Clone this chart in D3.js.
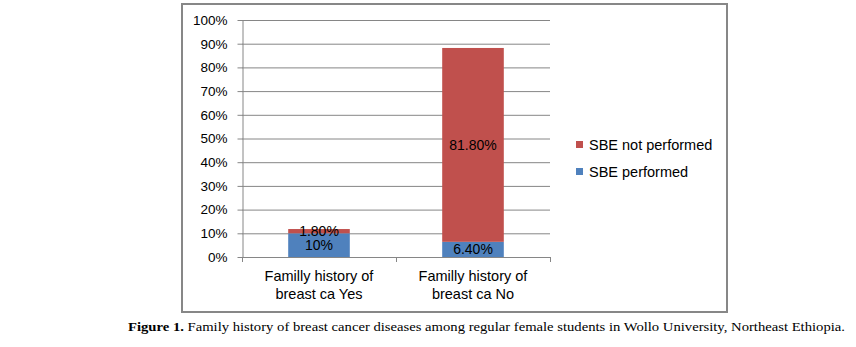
<!DOCTYPE html>
<html>
<head>
<meta charset="utf-8">
<script src="https://cdn.jsdelivr.net/npm/d3@7"></script>
<style>
  body { margin: 0; background: #fff; }
  text { font-family: "Liberation Sans", Arial, sans-serif; }
</style>
</head>
<body>
<div class="canvas"></div>
<script>
// Data
const categories = [["Familly history of", "breast ca Yes"], ["Familly history of", "breast ca No"]];
const performed = [10, 6.4];
const notPerformed = [1.8, 81.8];
const performedLabels = ["10%", "6.40%"];
const notPerformedLabels = ["1.80%", "81.80%"];
const yTicks = [0, 10, 20, 30, 40, 50, 60, 70, 80, 90, 100];
const seriesNames = ["SBE not performed", "SBE performed"];
const colors = { performed: "#4F81BD", notPerformed: "#C0504D" };

const W = 856, H = 347;
const plot = { left: 242, right: 550, top: 20, bottom: 257 };

const svg = d3.select(".canvas")
    .append("svg")
        .attr("width", W)
        .attr("height", H);

svg.append("rect").attr("width", W).attr("height", H).attr("fill", "#fff");

// outer chart border
svg.append("rect")
    .attr("x", 182).attr("y", 4)
    .attr("width", 545).attr("height", 308)
    .attr("fill", "none")
    .attr("stroke", "#878787")
    .attr("stroke-width", 2);

const x = d3.scaleBand()
    .domain(d3.range(categories.length))
    .range([plot.left, plot.right])
    .paddingInner(0.6)
    .paddingOuter(0.3);

const y = d3.scaleLinear()
    .domain([0, 100])
    .range([plot.bottom, plot.top]);

// gridlines
svg.append("g")
    .selectAll("line")
    .data(yTicks.filter(d => d > 0))
    .join("line")
        .attr("x1", plot.left).attr("x2", plot.right)
        .attr("y1", d => y(d) + 0.5).attr("y2", d => y(d) + 0.5)
        .attr("stroke", "#868686");

// y-axis
const yAxis = svg.append("g")
    .attr("transform", `translate(${plot.left + 0.5},0)`)
    .call(d3.axisLeft(y).tickValues(yTicks).tickFormat(d => d + "%").tickSize(5).tickSizeOuter(0));
yAxis.select(".domain").attr("stroke", "#868686");
yAxis.selectAll(".tick line").attr("stroke", "#868686");
yAxis.selectAll(".tick text")
    .attr("x", -15)
    .attr("fill", "#000")
    .style("font-size", "13.5px")
    .style("font-family", "Liberation Sans, Arial, sans-serif");

// x-axis baseline with ticks at band boundaries
const xBound = d3.scaleLinear().domain([0, categories.length]).range([plot.left, plot.right]);
svg.append("line")
    .attr("x1", plot.left).attr("x2", plot.right)
    .attr("y1", plot.bottom + 0.5).attr("y2", plot.bottom + 0.5)
    .attr("stroke", "#868686");
svg.append("g")
    .selectAll("line")
    .data(d3.range(categories.length + 1))
    .join("line")
        .attr("x1", d => xBound(d) + 0.5).attr("x2", d => xBound(d) + 0.5)
        .attr("y1", plot.bottom).attr("y2", plot.bottom + 5)
        .attr("stroke", "#868686");

// stacked bars
const bars = svg.append("g");
bars.selectAll(".perf")
    .data(performed)
    .join("rect")
        .attr("x", (d, i) => x(i))
        .attr("width", x.bandwidth())
        .attr("y", d => y(d))
        .attr("height", d => y(0) - y(d))
        .attr("fill", colors.performed);
bars.selectAll(".notperf")
    .data(notPerformed)
    .join("rect")
        .attr("x", (d, i) => x(i))
        .attr("width", x.bandwidth())
        .attr("y", (d, i) => y(performed[i] + d))
        .attr("height", (d, i) => y(performed[i]) - y(performed[i] + d))
        .attr("fill", colors.notPerformed);

// data labels
svg.append("g")
    .selectAll("text")
    .data(performed)
    .join("text")
        .attr("x", (d, i) => x(i) + x.bandwidth() / 2)
        .attr("y", d => y(d / 2))
        .attr("dy", "0.35em")
        .attr("text-anchor", "middle")
        .style("font-size", "14px")
        .text((d, i) => performedLabels[i]);
svg.append("g")
    .selectAll("text")
    .data(notPerformed)
    .join("text")
        .attr("x", (d, i) => x(i) + x.bandwidth() / 2)
        .attr("y", (d, i) => y(performed[i] + d / 2))
        .attr("dy", "0.35em")
        .attr("text-anchor", "middle")
        .style("font-size", "14px")
        .text((d, i) => notPerformedLabels[i]);

// category labels
svg.append("g")
    .selectAll("text")
    .data(categories)
    .join("text")
        .attr("x", (d, i) => x(i) + x.bandwidth() / 2)
        .attr("y", plot.bottom + 24)
        .attr("text-anchor", "middle")
        .style("font-size", "14.5px")
        .each(function(d) {
            d3.select(this).selectAll("tspan")
                .data(d)
                .join("tspan")
                    .attr("x", d3.select(this).attr("x"))
                    .attr("dy", (t, j) => j === 0 ? 0 : 18)
                    .text(t => t);
        });

// legend
const legend = svg.append("g").attr("transform", "translate(576,141)");
const legendColors = [colors.notPerformed, colors.performed];
legend.selectAll("rect")
    .data(seriesNames)
    .join("rect")
        .attr("x", 0)
        .attr("y", (d, i) => i * 27)
        .attr("width", 7).attr("height", 7)
        .attr("fill", (d, i) => legendColors[i]);
legend.selectAll("text")
    .data(seriesNames)
    .join("text")
        .attr("x", 13)
        .attr("y", (d, i) => i * 27 + 3.5)
        .attr("dy", "0.35em")
        .style("font-size", "14.5px")
        .text(d => d);

// caption
const cap = svg.append("text")
    .attr("x", 128)
    .attr("y", 331)
    .style("font-family", "Liberation Serif, serif")
    .style("font-size", "12px")
    .attr("textLength", 717)
    .attr("lengthAdjust", "spacingAndGlyphs");
cap.append("tspan").style("font-weight", "bold").text("Figure 1.");
cap.append("tspan").text(" Family history of breast cancer diseases among regular female students in Wollo University, Northeast Ethiopia.");
</script>
</body>
</html>
